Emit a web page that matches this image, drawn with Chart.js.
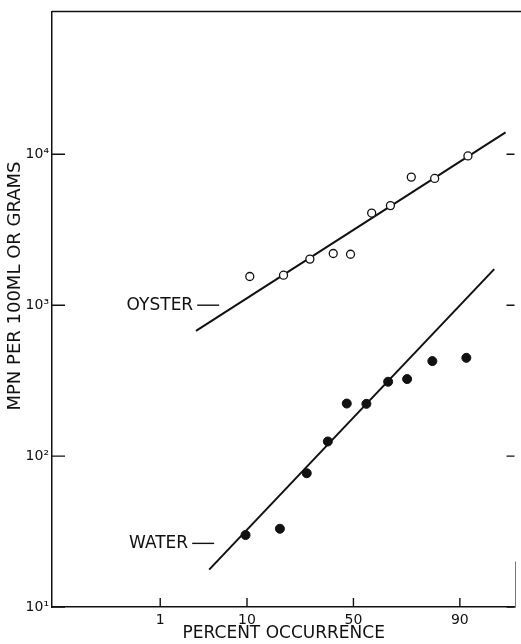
<!DOCTYPE html>
<html>
<head>
<meta charset="utf-8">
<script src="https://cdn.jsdelivr.net/npm/chart.js@4.4.1/dist/chart.umd.min.js"></script>
<style>
  html, body { margin: 0; padding: 0; background: #fff; }
  #wrap { width: 521px; height: 644px; }
</style>
</head>
<body>
<div id="wrap"><canvas id="c" width="521" height="644"></canvas></div>
<script>
// ---- data (percent occurrence vs MPN) ----
const percentTicks = [1, 10, 50, 90];
const decadeTicks = [10, 100, 1000, 10000];
const decadeLabels = ['10\u00B9', '10\u00B2', '10\u00B3', '10\u2074'];

const oysterPct = [10.6, 20.0, 30.0, 40.4, 48.6, 58.7, 67.2, 75.7, 83.6, 91.6];
const oysterMPN = [1550, 1580, 2020, 2200, 2175, 4080, 4570, 7060, 6920, 9750];
const waterPct  = [9.7, 18.8, 28.7, 37.9, 46.8, 56.2, 66.2, 74.1, 82.9, 91.3];
const waterMPN  = [30, 33, 77, 125, 223, 222, 311, 324, 426, 448];

const oysterFitPct = [2.9, 96.65];
const oysterFitMPN = [675, 13960];
const waterFitPct  = [4.12, 95.5];
const waterFitMPN  = [17.7, 1733];

const xRangePct = [0.0142, 97.45];
const yRange = [10, 88500];

const seriesNames = ['OYSTER', 'WATER'];
const labelPct = [5.3, 4.68];
const labelMPN = [1000, 26.4];

// inverse normal CDF (probability-paper scale transform)
function probit(p) {
  const a = [-3.969683028665376e+01, 2.209460984245205e+02, -2.759285104469687e+02, 1.383577518672690e+02, -3.066479806614716e+01, 2.506628277459239e+00];
  const b = [-5.447609879822406e+01, 1.615858368580409e+02, -1.556989798598866e+02, 6.680131188771972e+01, -1.328068155288572e+01];
  const c = [-7.784894002430293e-03, -3.223964580411365e-01, -2.400758277161838e+00, -2.549732539343734e+00, 4.374664141464968e+00, 2.938163982698783e+00];
  const d = [7.784695709041462e-03, 3.224671290700398e-01, 2.445134137142996e+00, 3.754408661907416e+00];
  const pl = 0.02425, ph = 1 - pl;
  let q, r;
  if (p < pl) {
    q = Math.sqrt(-2 * Math.log(p));
    return (((((c[0]*q+c[1])*q+c[2])*q+c[3])*q+c[4])*q+c[5]) / ((((d[0]*q+d[1])*q+d[2])*q+d[3])*q+1);
  } else if (p <= ph) {
    q = p - 0.5; r = q*q;
    return (((((a[0]*r+a[1])*r+a[2])*r+a[3])*r+a[4])*r+a[5])*q / (((((b[0]*r+b[1])*r+b[2])*r+b[3])*r+b[4])*r+1);
  } else {
    q = Math.sqrt(-2 * Math.log(1 - p));
    return -(((((c[0]*q+c[1])*q+c[2])*q+c[3])*q+c[4])*q+c[5]) / ((((d[0]*q+d[1])*q+d[2])*q+d[3])*q+1);
  }
}
const z = pct => probit(pct / 100);
const pts = (xs, ys) => xs.map((p, i) => ({ x: z(p), y: ys[i] }));

const FONT = '"DejaVu Sans", "Liberation Sans", sans-serif';
const INK = '#111';

const paperPlugin = {
  id: 'paper',
  beforeDraw(chart) {
    const ctx = chart.ctx;
    ctx.save();
    ctx.fillStyle = '#fff';
    ctx.fillRect(0, 0, chart.width, chart.height);
    ctx.restore();
  },
  afterDraw(chart) {
    const ctx = chart.ctx;
    const { left, right, top, bottom } = chart.chartArea;
    const xs = chart.scales.x, ys = chart.scales.y;
    ctx.save();
    ctx.strokeStyle = INK;
    ctx.lineWidth = 1.5;
    // top frame line
    ctx.beginPath();
    ctx.moveTo(left, top); ctx.lineTo(chart.width, top);
    ctx.stroke();
    // faint lower part of right frame
    ctx.lineWidth = 1;
    ctx.strokeStyle = '#777';
    ctx.beginPath();
    ctx.moveTo(right, bottom); ctx.lineTo(right, ys.getPixelForValue(20));
    ctx.stroke();
    ctx.strokeStyle = INK;
    ctx.lineWidth = 1.4;
    // inner ticks on y (left and right)
    ys.ticks.forEach(t => {
      const py = ys.getPixelForValue(t.value);
      ctx.beginPath();
      ctx.moveTo(left, py); ctx.lineTo(left + 13, py);
      ctx.moveTo(right - 9, py); ctx.lineTo(right - 1, py);
      ctx.stroke();
    });
    // inner ticks on x
    xs.ticks.forEach(t => {
      const px = xs.getPixelForValue(t.value);
      ctx.beginPath();
      ctx.moveTo(px, bottom); ctx.lineTo(px, bottom - 9);
      ctx.stroke();
    });
    // series labels with leader dashes
    ctx.fillStyle = INK;
    ctx.font = '17px ' + FONT;
    ctx.textAlign = 'right';
    ctx.textBaseline = 'middle';
    seriesNames.forEach((name, i) => {
      const px = xs.getPixelForValue(z(labelPct[i]));
      const py = ys.getPixelForValue(labelMPN[i]);
      ctx.beginPath();
      ctx.moveTo(px - 22, py); ctx.lineTo(px, py);
      ctx.stroke();
      ctx.fillText(name, px - 26, py);
    });
    // y-axis title
    ctx.translate(15, 286);
    ctx.rotate(-Math.PI / 2);
    ctx.textAlign = 'center';
    ctx.font = '18px ' + FONT;
    ctx.fillText('MPN PER 100ML OR GRAMS', 0, 0);
    ctx.restore();
  }
};

new Chart(document.getElementById('c'), {
  type: 'scatter',
  data: {
    datasets: [
      { label: 'OYSTER', data: pts(oysterPct, oysterMPN), pointStyle: 'circle', pointRadius: 4,
        pointBorderWidth: 1.3, borderColor: INK, backgroundColor: '#fff', showLine: false },
      { label: 'WATER', data: pts(waterPct, waterMPN), pointStyle: 'circle', pointRadius: 4.5,
        pointBorderWidth: 1, borderColor: INK, backgroundColor: INK, showLine: false },
      { label: 'oyster fit', data: pts(oysterFitPct, oysterFitMPN), showLine: true, pointRadius: 0,
        borderColor: INK, borderWidth: 2, tension: 0 },
      { label: 'water fit', data: pts(waterFitPct, waterFitMPN), showLine: true, pointRadius: 0,
        borderColor: INK, borderWidth: 2, tension: 0 }
    ]
  },
  options: {
    responsive: false,
    animation: false,
    layout: { padding: { left: 0, right: 3, top: 7, bottom: 0 } },
    plugins: { legend: { display: false }, tooltip: { enabled: false } },
    scales: {
      x: {
        type: 'linear',
        min: z(xRangePct[0]), max: z(xRangePct[1]),
        afterBuildTicks: s => { s.ticks = percentTicks.map(p => ({ value: z(p) })); },
        afterFit: s => { s.height = 37; },
        ticks: { autoSkip: false, maxRotation: 0, padding: 5, color: INK,
                 font: { family: FONT, size: 14 },
                 callback: (v, i) => String(percentTicks[i]) },
        grid: { display: false, drawTicks: false },
        border: { display: true, color: INK, width: 1.5 },
        title: { display: true, text: 'PERCENT OCCURRENCE', color: INK,
                 font: { family: FONT, size: 17 }, padding: { top: 0, bottom: 0 } }
      },
      y: {
        type: 'logarithmic',
        min: yRange[0], max: yRange[1],
        afterBuildTicks: s => { s.ticks = decadeTicks.map(v => ({ value: v })); },
        afterFit: s => { s.width = 52; },
        ticks: { autoSkip: false, padding: 3, color: INK,
                 font: { family: FONT, size: 14 },
                 callback: (v, i) => decadeLabels[i] },
        grid: { display: false, drawTicks: false },
        border: { display: true, color: INK, width: 1.5 }
      }
    }
  },
  plugins: [paperPlugin]
});
</script>
</body>
</html>
